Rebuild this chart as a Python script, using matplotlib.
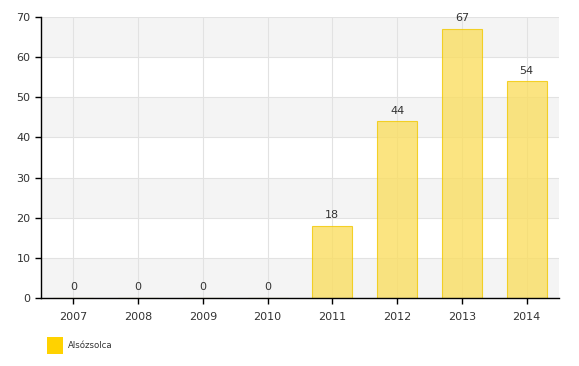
import matplotlib
matplotlib.use("Agg")
import matplotlib.pyplot as plt
from matplotlib.patches import Rectangle

years = ["2007", "2008", "2009", "2010", "2011", "2012", "2013", "2014"]
values = [0, 0, 0, 0, 18, 44, 67, 54]
series_name = "Alsózsolca"

fig = plt.figure(figsize=(5.79, 3.66), dpi=100)
ax = fig.add_axes([41 / 579, 68 / 366, 518 / 579, 281 / 366])

# alternating horizontal bands
for lo in range(0, 70, 20):
    ax.axhspan(lo, lo + 10, color="#f4f4f4", zorder=0, lw=0)
ax.axhspan(60, 70, color="#f4f4f4", zorder=0, lw=0)

x = list(range(len(years)))
ax.bar(x, values, width=0.62, color="#fade62", alpha=0.8,
       edgecolor="#f2c800", linewidth=0.8, zorder=2)

for xi, v in zip(x, values):
    ax.annotate(str(v), (xi, v), xytext=(0, 4), textcoords="offset points",
                ha="center", va="bottom", fontsize=8, color="#333333")

ax.set_xlim(-0.5, len(years) - 0.5)
ax.set_ylim(0, 70)
ax.set_yticks(range(0, 71, 10))
ax.set_xticks(x)
ax.set_xticklabels(years)
ax.grid(True, color="#e2e2e2", linewidth=0.8, zorder=1)
ax.set_axisbelow(True)

for s in ["top", "right"]:
    ax.spines[s].set_visible(False)
for s in ["left", "bottom"]:
    ax.spines[s].set_color("black")
    ax.spines[s].set_linewidth(1.0)
ax.tick_params(axis="both", length=4, width=1, color="black",
               labelsize=8, labelcolor="#333333")
ax.tick_params(axis="x", pad=6)

# legend
fig.patches.append(Rectangle((47 / 579, 1 - 354 / 366), 16 / 579, 17 / 366,
                             transform=fig.transFigure, facecolor="#ffd200",
                             edgecolor="none"))
fig.text(68 / 579, 1 - 346 / 366, series_name, fontsize=6.2, color="#333333",
         va="center", ha="left")

fig.savefig("out.png", dpi=100)
